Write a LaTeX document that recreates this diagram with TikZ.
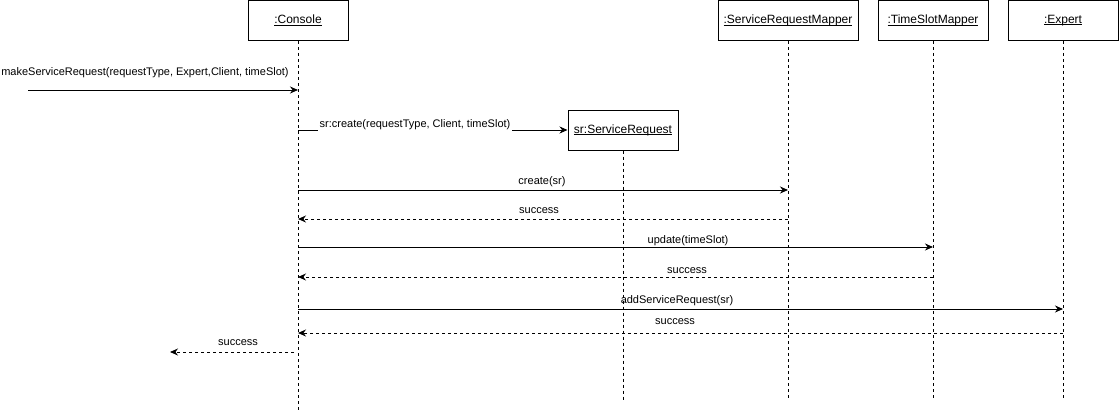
\documentclass[tikz,border=0pt]{standalone}
\usepackage{fontspec}
\setmainfont{Liberation Sans}
\usetikzlibrary{arrows.meta}
\newcommand\objul[1]{\setbox0\hbox{#1}\rlap{\rule[-1.8pt]{\wd0}{0.8pt}}\box0}
\begin{document}
\begin{tikzpicture}[x=1pt,y=-1pt,
  obj/.style={draw,line width=1pt,minimum height=40pt,inner sep=0pt,font=\fontsize{12}{14}\selectfont},
  lifeline/.style={line width=1pt,dash pattern=on 3pt off 3pt},
  msg/.style={line width=1pt,-{Stealth[length=8pt,width=7pt]}},
  ret/.style={msg,dash pattern=on 3pt off 3pt},
  lbl/.style={font=\fontsize{11}{13}\selectfont,inner sep=1pt}]
\useasboundingbox (0,0) rectangle (1119,412);
% objects
\node[obj,minimum width=100pt] (cons) at (298,20.5) {\objul{:Console}};
\node[obj,minimum width=140pt] (srm) at (788,20.5) {\objul{:ServiceRequestMapper}};
\node[obj,minimum width=110pt] (tsm) at (933,20.5) {\objul{:TimeSlotMapper}};
\node[obj,minimum width=110pt] (exp) at (1063,20.5) {\objul{:Expert}};
\node[obj,minimum width=110pt] (sr) at (623,130) {\objul{sr:ServiceRequest}};
% lifeline ends
\coordinate (consEnd) at (298,410);
\coordinate (srmEnd) at (788,400);
\coordinate (tsmEnd) at (933,400);
\coordinate (expEnd) at (1063,400);
\coordinate (srEnd) at (623,400);
\draw[lifeline] (cons.south) -- (consEnd);
\draw[lifeline] (srm.south) -- (srmEnd);
\draw[lifeline] (tsm.south) -- (tsmEnd);
\draw[lifeline] (exp.south) -- (expEnd);
\draw[lifeline] (sr.south) -- (srEnd);
% message end points
\coordinate (m1s) at (28,90);   \coordinate (m1e) at (298,90);
\coordinate (m2s) at (298,130);
\coordinate (m3s) at (298,190); \coordinate (m3e) at (788,190);
\coordinate (m4s) at (788,219); \coordinate (m4e) at (298,219);
\coordinate (m5s) at (298,247); \coordinate (m5e) at (933,247);
\coordinate (m6s) at (933,277); \coordinate (m6e) at (298,277);
\coordinate (m7s) at (298,309); \coordinate (m7e) at (1063,309);
\coordinate (m8s) at (1063,333); \coordinate (m8e) at (298,333);
\coordinate (m9s) at (294,352); \coordinate (m9e) at (170,352);
% messages
\draw[msg] (m1s) -- (m1e);
\node[lbl] (l1) at (145,73) {makeServiceRequest(requestType, Expert,Client, timeSlot)};
\draw[msg] (m2s) -- (sr.west);
\node[lbl,fill=white,inner xsep=1.5pt,inner ysep=3pt] (l2) at (415,125) {sr:create(requestType, Client, timeSlot)};
\draw[msg] (m3s) -- (m3e);
\node[lbl] (l3) at (542,182) {create(sr)};
\draw[ret] (m4s) -- (m4e);
\node[lbl] (l4) at (539,211) {success};
\draw[msg] (m5s) -- (m5e);
\node[lbl] (l5) at (688,241) {update(timeSlot)};
\draw[ret] (m6s) -- (m6e);
\node[lbl] (l6) at (687,271) {success};
\draw[msg] (m7s) -- (m7e);
\node[lbl] (l7) at (677,301) {addServiceRequest(sr)};
\draw[ret] (m8s) -- (m8e);
\node[lbl] (l8) at (675,322) {success};
\draw[ret] (m9s) -- (m9e);
\node[lbl] (l9) at (238,343) {success};
\end{tikzpicture}
\end{document}
